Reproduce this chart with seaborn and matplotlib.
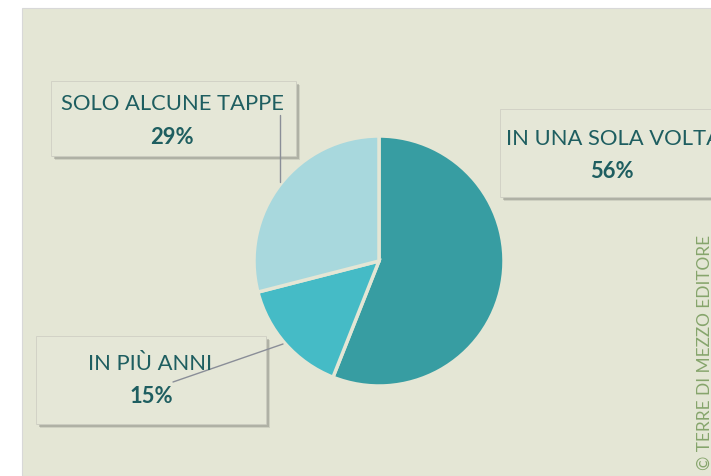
import matplotlib
matplotlib.use("Agg")
import matplotlib.pyplot as plt
import matplotlib.patches as mpatches
import matplotlib.patheffects as pe
import seaborn as sns

# dati
categorie = ["IN UNA SOLA VOLTA", "IN PIÙ ANNI", "SOLO ALCUNE TAPPE"]
valori = [56, 15, 29]
etichette_pct = ["56%", "15%", "29%"]
colori = ["#379DA2", "#45BBC6", "#A8D8DD"]

W, H = 711, 477
SFONDO = "#E4E6D5"
TESTO = "#1E5E60"

sns.set_theme(style="white")
plt.rcParams["font.family"] = ["Lato", "DejaVu Sans"]


def fx(x):
    return x / W


def fy(y):
    return 1 - y / H


fig = plt.figure(figsize=(W / 100, H / 100), dpi=100, facecolor="white")

# pannello beige (sotto la torta)
fig.patches.append(mpatches.Rectangle((fx(22), 0), 1, fy(9), transform=fig.transFigure,
                                      facecolor=SFONDO, edgecolor="#D8D8D8", lw=0.8, zorder=-1))

# torta
r = 125
cx, cy = 379, 262
ax = fig.add_axes([fx(cx - r), fy(cy + r), 2 * r / W, 2 * r / H])
ax.pie(valori, colors=colori, startangle=90, counterclock=False,
       wedgeprops=dict(edgecolor=SFONDO, linewidth=2.5))
ax.set_xlim(-1, 1)
ax.set_ylim(-1, 1)
ax.set_axis_off()


def riquadro(x0, y0, x1, y1):
    rect = mpatches.Rectangle((fx(x0), fy(y1)), fx(x1) - fx(x0), fy(y0) - fy(y1),
                              transform=fig.transFigure, facecolor="#E5E7D7",
                              edgecolor="#CFCFC4", lw=0.6, zorder=2)
    # ombra morbida: piu' strati sfalsati
    rect.set_path_effects([pe.SimplePatchShadow(offset=(2.6, -2.6), shadow_rgbFace="#555555", alpha=0.15),
                           pe.SimplePatchShadow(offset=(1.8, -1.8), shadow_rgbFace="#555555", alpha=0.25),
                           pe.SimplePatchShadow(offset=(1.0, -1.0), shadow_rgbFace="#555555", alpha=0.3),
                           pe.Normal()])
    fig.patches.append(rect)


riquadro(51, 82, 296, 157)
riquadro(500, 110, 760, 198)
riquadro(36, 337, 266, 425)

# linee guida
fig.lines.append(plt.Line2D([fx(280), fx(280)], [fy(116), fy(183)], transform=fig.transFigure,
                            color="#8A8E98", lw=1, zorder=3))
fig.lines.append(plt.Line2D([fx(173), fx(283)], [fy(383), fy(345)], transform=fig.transFigure,
                            color="#8A8E98", lw=1, zorder=3))

kw = dict(color=TESTO, fontsize=15.8, va="center", zorder=4)
fig.text(fx(172), fy(104), categorie[2], ha="center", **kw)
fig.text(fx(172), fy(137), etichette_pct[2], ha="center", fontweight="bold", **kw)
fig.text(fx(506), fy(139), categorie[0], ha="left", **kw)
fig.text(fx(612), fy(172), etichette_pct[0], ha="center", fontweight="bold", **kw)
fig.text(fx(150), fy(364), categorie[1], ha="center", **kw)
fig.text(fx(151), fy(397), etichette_pct[1], ha="center", fontweight="bold", **kw)

fig.text(fx(705), fy(470), "© TERRE DI MEZZO EDITORE", rotation=90, ha="center", va="bottom",
         color="#86A56C", fontsize=12.4)

fig.savefig("out.png", dpi=100, facecolor="white")
